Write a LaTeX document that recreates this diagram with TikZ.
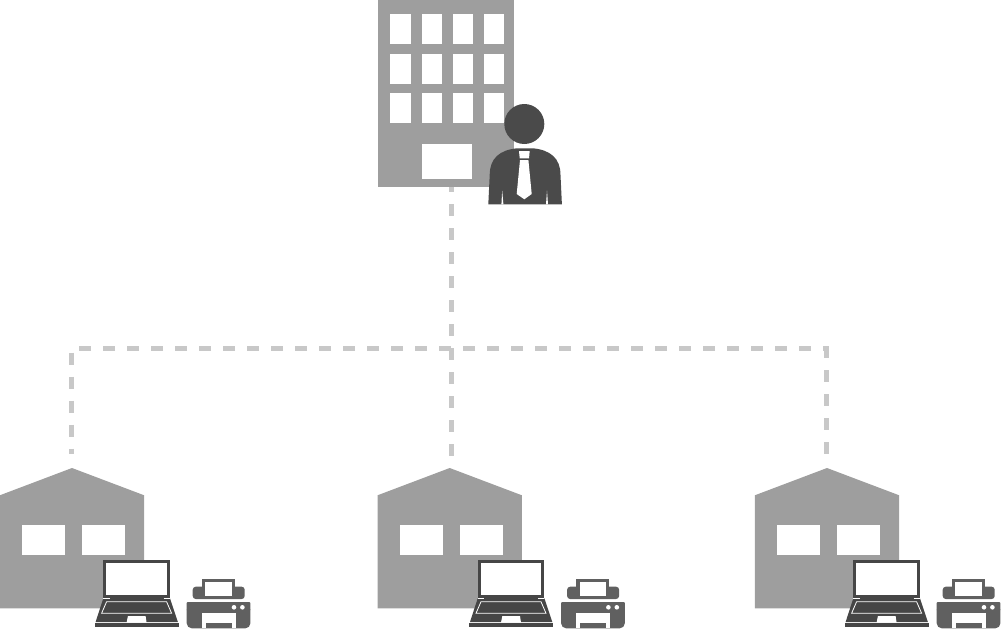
\documentclass[tikz,border=0pt]{standalone}
\usetikzlibrary{calc}
\definecolor{wallgray}{HTML}{9E9E9E}
\definecolor{linkgray}{HTML}{C8C8C8}
\definecolor{persongray}{HTML}{4A4A4A}
\definecolor{laptopgray}{HTML}{464646}
\definecolor{printergray}{HTML}{606060}
\tikzset{
  link/.style={linkgray,line width=5pt,dash pattern=on 12pt off 12pt},
  wall/.style={fill=wallgray},
  pane/.style={fill=white},
  pics/warehouse/.style={code={
    \fill[wall] (-72.2,0) -- (-72.2,-113) -- (0,-140.3) -- (72.2,-113) -- (72.2,0) -- cycle;
    \fill[pane] (-49.7,-83.3) rectangle (-6.7,-53);
    \fill[pane] (10.3,-83.3) rectangle (53.3,-53);
  }},
  pics/laptop/.style={code={
    \fill[laptopgray] (0,0) rectangle (66.7,38.5);
    \fill[pane] (3,2.6) rectangle (63.7,34.7);
    \fill[laptopgray] (0,38.3) -- (66.7,38.3) -- (74.6,62) -- (-7.7,62) -- cycle;
    \draw[white,line width=0.5pt] (0,38) -- (6.3,38) (60.4,38) -- (66.7,38);
    \draw[white,line width=0.8pt] (3.3,41.7) -- (63.3,41.7) -- (68.3,53.3) -- (-1.7,53.3) -- cycle;
    \fill[pane] (24.6,56) -- (42.3,56) -- (43.3,62.7) -- (23.3,62.7) -- cycle;
    \fill[laptopgray] (-8.7,62.9) rectangle (75.3,67.3);
  }},
  pics/printer/.style={code={
    \fill[printergray] (15.3,19.3) rectangle (48.3,30);
    \fill[printergray,rounded corners=3pt] (6,39) -- (6,26.7) -- (58,26.7) -- (58,39) -- cycle;
    \fill[pane] (18.7,22.3) rectangle (45,36);
    \fill[printergray,rounded corners=1pt] (0,50) -- (0,42) -- (63.7,42) -- (63.7,50);
    \fill[printergray,rounded corners=5pt] (0,45) -- (0,68.3) -- (63.7,68.3) -- (63.7,45) -- cycle;
    \fill[pane] (15,53.3) rectangle (49,68.4);
    \fill[printergray] (19,63.3) rectangle (45,68.3);
    \fill[pane] (47.3,47.3) circle (2.3) (55.7,47.3) circle (2.3);
  }},
}
\begin{document}
\begin{tikzpicture}[x=1pt,y=-1pt]
  \useasboundingbox (0,0) rectangle (1001,629);
  \coordinate (hqdoor) at (451,180);
  \coordinate (siteb) at (451,456);
  \coordinate (sitea) at (71,454);
  \coordinate (sitec) at (826,453.5);
  \coordinate (cornera) at (71,348.5);
  \coordinate (cornerc) at (826,348.5);
  \draw[link] (hqdoor) -- (siteb);
  \draw[link] (sitec) -- (cornerc) -- (cornera) -- (sitea);
  \fill[wall] (377.7,-1) rectangle (514,186.7);
  \foreach \wx in {390.3,421.7,452.7,483.7}{
    \foreach \wy in {14,54.3,93}{
      \fill[pane] (\wx,\wy) rectangle (\wx+20.5,\wy+29.6);
    }
  }
  \fill[pane] (421.7,143.7) rectangle (472.3,178.7);
  \fill[persongray] (524.3,124) circle (20);
  \fill[persongray] (488.3,204.3) -- (489.7,175) .. controls (489.7,158) and (500,150) .. (517,148.3) -- (533,148.3) .. controls (550,150) and (560.5,158) .. (560.5,175) -- (561.9,204.3) -- cycle;
  \fill[pane] (502.2,190.5) -- (503.4,204.4) -- (501.4,204.4) -- cycle;
  \fill[pane] (547,190.5) -- (548,204.4) -- (546,204.4) -- cycle;
  \fill[pane] (519,151) -- (529.7,151) -- (529,158.3) -- (519.7,158.3) -- cycle;
  \fill[pane] (520,160) -- (528.4,160) -- (531.7,194) -- (524.3,199.3) -- (516.7,194) -- cycle;
  \foreach \hx/\dx in {72/103.3,449.7/477.7,827/853.3}{
    \pic at (\hx,608.3) {warehouse};
    \pic at (\dx,560) {laptop};
    \pic at (\dx+83.4,560) {printer};
  }
\end{tikzpicture}
\end{document}
